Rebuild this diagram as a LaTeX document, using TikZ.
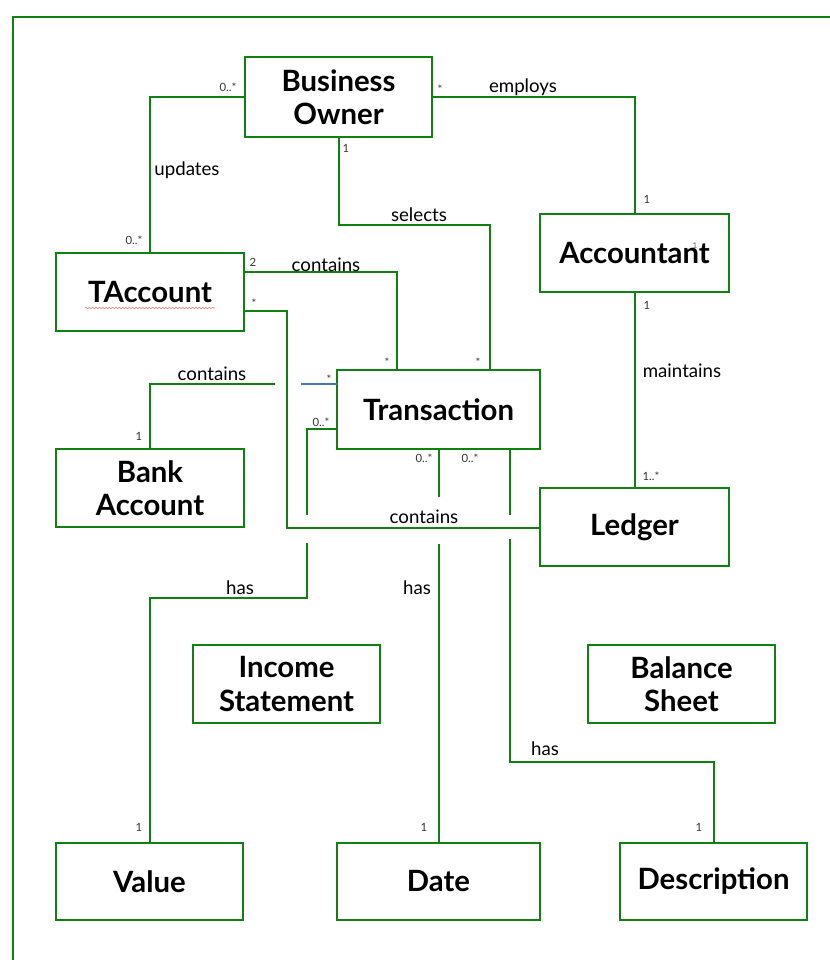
\documentclass[tikz,border=0pt]{standalone}
\usepackage{fontspec}
\setmainfont{Lato}
\usetikzlibrary{decorations.pathmorphing}
\definecolor{umlgreen}{RGB}{16,128,16}
\definecolor{umlblue}{RGB}{68,114,196}
\begin{document}
\begin{tikzpicture}[x=0.75pt,y=-0.75pt,
  cls/.style={draw=umlgreen, line width=1.5pt, fill=white, inner sep=0pt, outer sep=0pt,
    align=center, font=\fontsize{22}{25}\selectfont\bfseries},
  conn/.style={draw=umlgreen, line width=1.5pt},
  lbl/.style={font=\fontsize{14}{15}\selectfont, inner sep=0pt},
  mult/.style={font=\fontsize{8.5}{9}\selectfont, inner sep=0pt, text=black!80}]
\useasboundingbox (0,0) rectangle (830,960);
% frame
\draw[umlgreen, line width=2pt] (13,960) -- (13,17) -- (830,17);

% classes
\node[cls, minimum width=140.25pt, minimum height=60pt]   (BO)    at (338.5,97)   {Business\\Owner};
\node[cls, minimum width=141.75pt, minimum height=58.5pt] (Acc)   at (634.5,253)  {Accountant};
\node[cls, minimum width=141pt,    minimum height=58.5pt] (TAcc)  at (150,292)    {TAccount};
\node[cls, minimum width=152.25pt, minimum height=59.25pt](Trans) at (438.5,409.5){Transaction};
\node[cls, minimum width=141pt,    minimum height=58.5pt] (Bank)  at (150,488)    {Bank\\Account};
\node[cls, minimum width=141.75pt, minimum height=58.5pt] (Ledger) at (634.5,527) {Ledger};
\node[cls, minimum width=140.25pt, minimum height=58.5pt] (Income) at (286.5,684) {Income\\Statement};
\node[cls, minimum width=140.25pt, minimum height=58.5pt] (Balance) at (681.5,684) {Balance\\Sheet};
\node[cls, minimum width=140.25pt, minimum height=57.75pt] (Value) at (149.5,881.5) {Value};
\node[cls, minimum width=152.25pt, minimum height=57.75pt] (Date)  at (438.5,881.5) {Date};
\node[cls, minimum width=140.25pt, minimum height=57.75pt] (Desc)  at (713.5,881.5) {Description};

% spell-check squiggle and stray mark
\draw[red!55, line width=0.4pt, decorate, decoration={snake, amplitude=0.6pt, segment length=2.5pt}] (85,308) -- (215,308);
\node[font=\fontsize{6}{6}\selectfont, text=black!60, inner sep=0pt] (stray) at (695,246) {1};

% helper coordinates
\coordinate (sel1) at (490,225);
\coordinate (c1) at (397,272);
\coordinate (c2a) at (287,311);
\coordinate (c2b) at (287,528);
\coordinate (b2) at (275,384);
\coordinate (b3) at (301,384);
\coordinate (v1) at (307,429);
\coordinate (v2) at (307,515);
\coordinate (v3) at (307,543);
\coordinate (v4) at (307,598);
\coordinate (d1) at (438.5,497);
\coordinate (d2) at (438.5,544);
\coordinate (e1) at (510,515);
\coordinate (e2) at (510,539);
\coordinate (e3) at (510,762);

% connectors
\draw[conn] (BO.east) -| (Acc.north);
\draw[conn] (BO.west) -| (TAcc.north);
\draw[conn] (BO.south) |- (sel1) -- (sel1 |- Trans.north);
\draw[conn] (c1 -| TAcc.east) -- (c1) -- (c1 |- Trans.north);
\draw[conn] (Acc.south) -- (Ledger.north);
\draw[conn] (c2a -| TAcc.east) -- (c2a) -- (c2b) -- (c2b -| Ledger.west);
\draw[conn] (Bank.north) |- (b2);
\draw[umlblue, line width=0.8pt] (b3) -- (b3 -| Trans.west);
\draw[conn] (v1 -| Trans.west) -- (v1) -- (v2);
\draw[conn] (v3) -- (v4) -| (Value.north);
\draw[conn] (Trans.south) -- (d1);
\draw[conn] (d2) -- (Date.north);
\draw[conn] (e1 |- Trans.south) -- (e1);
\draw[conn] (e2) -- (e3) -| (Desc.north);

% association labels
\node[lbl] (l1) at (523,87) {employs};
\node[lbl] (l2) at (187,170) {updates};
\node[lbl] (l3) at (419,215) {selects};
\node[lbl] (l4) at (326,265) {contains};
\node[lbl] (l5) at (682,371) {maintains};
\node[lbl] (l6) at (424,517) {contains};
\node[lbl] (l7) at (212,374) {contains};
\node[lbl] (l8) at (240,588) {has};
\node[lbl] (l9) at (417,588) {has};
\node[lbl] (l10) at (545,749) {has};

% multiplicities
\node[mult] (m1) at (440,89) {*};
\node[mult] (m2) at (647,199) {1};
\node[mult] (m3) at (228,87) {0..*};
\node[mult] (m4) at (134,240) {0..*};
\node[mult] (m5) at (346,148) {1};
\node[mult] (m6) at (478,362) {*};
\node[mult] (m7) at (253,262) {2};
\node[mult] (m8) at (387,362) {*};
\node[mult] (m9) at (647,305) {1};
\node[mult] (m10) at (651,476) {1..*};
\node[mult] (m11) at (254,303) {*};
\node[mult] (m12) at (139,436) {1};
\node[mult] (m13) at (329,379) {*};
\node[mult] (m14) at (321,422) {0..*};
\node[mult] (m15) at (139,827) {1};
\node[mult] (m16) at (424,458) {0..*};
\node[mult] (m17) at (470,458) {0..*};
\node[mult] (m18) at (424,827) {1};
\node[mult] (m19) at (699,827) {1};
\end{tikzpicture}
\end{document}
